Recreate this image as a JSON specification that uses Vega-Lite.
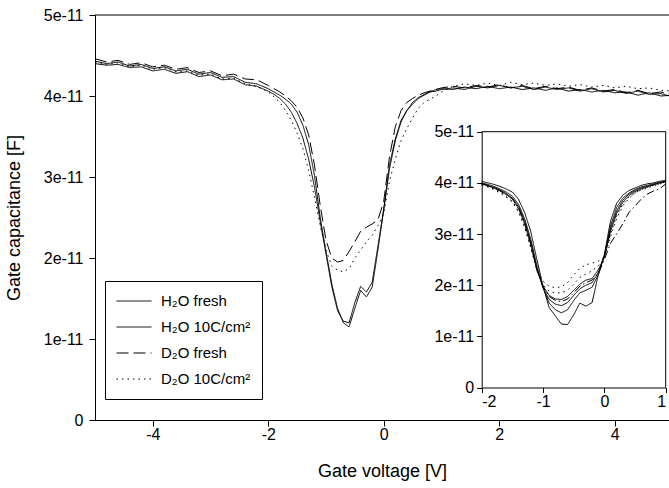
{
  "$schema": "https://vega.github.io/schema/vega-lite/v6.json",
  "width": 574,
  "height": 405,
  "autosize": {"type": "none"},
  "padding": {"left": 95, "top": 15, "right": 0, "bottom": 68},
  "background": "white",
  "config": {
    "font": "Liberation Sans",
    "view": {"stroke": null},
    "axis": {
      "domainColor": "black", "tickColor": "black", "labelColor": "black", "titleColor": "black",
      "labelFontSize": 16, "titleFontSize": 18, "titleFontWeight": "normal",
      "labelFont": "Liberation Sans", "titleFont": "Liberation Sans",
      "grid": false, "tickSize": 6, "domainWidth": 1, "tickWidth": 1
    },
    "legend": {
      "labelFont": "Liberation Sans", "labelFontSize": 15, "labelColor": "black"
    }
  },
  "datasets": {
    "main": [
      {"s": "H₂O fresh",
       "v": [-5,-4.8,-4.6,-4.4,-4.2,-4,-3.8,-3.6,-3.4,-3.2,-3,-2.8,-2.6,-2.4,-2.2,-2,-1.9,-1.8,-1.7,-1.6,-1.5,-1.4,-1.3,-1.2,-1.1,-1,-0.9,-0.8,-0.7,-0.6,-0.5,-0.4,-0.3,-0.2,-0.1,0,0.1,0.2,0.3,0.4,0.5,0.6,0.7,0.8,0.9,1,1.2,1.4,1.6,1.8,2,2.2,2.4,2.6,2.8,3,3.2,3.4,3.6,3.8,4,4.2,4.4,4.6,4.8,5],
       "c": [4.43e-11,4.40e-11,4.42e-11,4.37e-11,4.39e-11,4.34e-11,4.36e-11,4.31e-11,4.33e-11,4.27e-11,4.29e-11,4.23e-11,4.24e-11,4.17e-11,4.15e-11,
             4.09e-11,4.05e-11,4.01e-11,3.96e-11,3.9e-11,3.8e-11,3.64e-11,3.4e-11,3.02e-11,2.5e-11,2.08e-11,1.68e-11,1.38e-11,1.2e-11,1.15e-11,1.38e-11,1.6e-11,1.52e-11,1.64e-11,2.1e-11,2.6e-11,3.15e-11,3.47e-11,3.7e-11,3.82e-11,3.9e-11,3.97e-11,4.01e-11,4.05e-11,4.06e-11,4.08e-11,
             4.1e-11,4.08e-11,4.12e-11,4.1e-11,4.13e-11,4.1e-11,4.12e-11,4.08e-11,4.11e-11,4.08e-11,4.1e-11,4.06e-11,4.09e-11,4.05e-11,4.07e-11,4.03e-11,4.06e-11,4.02e-11,4.03e-11,3.99e-11]},
      {"s": "H₂O 10C/cm²",
       "v": [-5,-4.8,-4.6,-4.4,-4.2,-4,-3.8,-3.6,-3.4,-3.2,-3,-2.8,-2.6,-2.4,-2.2,-2,-1.9,-1.8,-1.7,-1.6,-1.5,-1.4,-1.3,-1.2,-1.1,-1,-0.9,-0.8,-0.7,-0.6,-0.5,-0.4,-0.3,-0.2,-0.1,0,0.1,0.2,0.3,0.4,0.5,0.6,0.7,0.8,0.9,1,1.2,1.4,1.6,1.8,2,2.2,2.4,2.6,2.8,3,3.2,3.4,3.6,3.8,4,4.2,4.4,4.6,4.8,5],
       "c": [4.40e-11,4.38e-11,4.39e-11,4.35e-11,4.36e-11,4.31e-11,4.33e-11,4.28e-11,4.30e-11,4.24e-11,4.26e-11,4.2e-11,4.21e-11,4.14e-11,4.12e-11,
             4.06e-11,4.02e-11,3.97e-11,3.9e-11,3.8e-11,3.66e-11,3.48e-11,3.22e-11,2.88e-11,2.45e-11,2.05e-11,1.65e-11,1.35e-11,1.22e-11,1.2e-11,1.45e-11,1.65e-11,1.58e-11,1.7e-11,2.15e-11,2.6e-11,3.1e-11,3.45e-11,3.68e-11,3.82e-11,3.92e-11,3.98e-11,4.02e-11,4.05e-11,4.08e-11,4.09e-11,
             4.08e-11,4.11e-11,4.09e-11,4.12e-11,4.09e-11,4.11e-11,4.08e-11,4.1e-11,4.07e-11,4.1e-11,4.06e-11,4.08e-11,4.05e-11,4.07e-11,4.04e-11,4.05e-11,4.01e-11,4.04e-11,4.0e-11,4.01e-11]},
      {"s": "D₂O fresh",
       "v": [-5,-4.8,-4.6,-4.4,-4.2,-4,-3.8,-3.6,-3.4,-3.2,-3,-2.8,-2.6,-2.4,-2.2,-2,-1.9,-1.8,-1.7,-1.6,-1.5,-1.4,-1.3,-1.2,-1.1,-1,-0.9,-0.8,-0.7,-0.6,-0.5,-0.4,-0.3,-0.2,-0.1,0,0.1,0.2,0.3,0.4,0.5,0.6,0.7,0.8,0.9,1,1.2,1.4,1.6,1.8,2,2.2,2.4,2.6,2.8,3,3.2,3.4,3.6,3.8,4,4.2,4.4,4.6,4.8,5],
       "c": [4.46e-11,4.42e-11,4.44e-11,4.39e-11,4.41e-11,4.36e-11,4.38e-11,4.33e-11,4.35e-11,4.29e-11,4.31e-11,4.25e-11,4.27e-11,4.21e-11,4.2e-11,
             4.13e-11,4.09e-11,4.05e-11,4.0e-11,3.94e-11,3.86e-11,3.73e-11,3.52e-11,3.15e-11,2.65e-11,2.22e-11,2.0e-11,1.95e-11,1.97e-11,2.08e-11,2.2e-11,2.33e-11,2.38e-11,2.42e-11,2.47e-11,2.7e-11,3.25e-11,3.62e-11,3.82e-11,3.92e-11,3.97e-11,4.01e-11,4.04e-11,4.06e-11,4.08e-11,4.1e-11,
             4.12e-11,4.1e-11,4.13e-11,4.11e-11,4.14e-11,4.1e-11,4.13e-11,4.09e-11,4.12e-11,4.09e-11,4.11e-11,4.07e-11,4.1e-11,4.06e-11,4.08e-11,4.04e-11,4.07e-11,4.03e-11,4.05e-11,4.01e-11]},
      {"s": "D₂O 10C/cm²",
       "v": [-5,-4.8,-4.6,-4.4,-4.2,-4,-3.8,-3.6,-3.4,-3.2,-3,-2.8,-2.6,-2.4,-2.2,-2,-1.9,-1.8,-1.7,-1.6,-1.5,-1.4,-1.3,-1.2,-1.1,-1,-0.9,-0.8,-0.7,-0.6,-0.5,-0.4,-0.3,-0.2,-0.1,0,0.1,0.2,0.3,0.4,0.5,0.6,0.7,0.8,0.9,1,1.2,1.4,1.6,1.8,2,2.2,2.4,2.6,2.8,3,3.2,3.4,3.6,3.8,4,4.2,4.4,4.6,4.8,5],
       "c": [4.42e-11,4.39e-11,4.41e-11,4.36e-11,4.38e-11,4.33e-11,4.35e-11,4.3e-11,4.31e-11,4.26e-11,4.27e-11,4.21e-11,4.22e-11,4.15e-11,4.12e-11,
             4.05e-11,3.99e-11,3.92e-11,3.82e-11,3.7e-11,3.54e-11,3.35e-11,3.08e-11,2.75e-11,2.4e-11,2.1e-11,1.9e-11,1.85e-11,1.83e-11,1.87e-11,2.0e-11,2.1e-11,2.2e-11,2.28e-11,2.4e-11,2.55e-11,2.95e-11,3.22e-11,3.45e-11,3.6e-11,3.73e-11,3.85e-11,3.92e-11,3.96e-11,4.0e-11,4.05e-11,
             4.12e-11,4.15e-11,4.13e-11,4.16e-11,4.13e-11,4.17e-11,4.14e-11,4.16e-11,4.13e-11,4.15e-11,4.12e-11,4.14e-11,4.11e-11,4.13e-11,4.1e-11,4.12e-11,4.09e-11,4.1e-11,4.07e-11,4.06e-11]}
    ],
    "inset": [
      {"s": "i1", "v": [-2,-1.9,-1.8,-1.7,-1.6,-1.5,-1.4,-1.3,-1.2,-1.1,-1,-0.9,-0.8,-0.7,-0.6,-0.5,-0.4,-0.3,-0.2,-0.1,0,0.1,0.2,0.3,0.4,0.5,0.6,0.7,0.8,0.9,1],
       "c": [4.03e-11,4.0e-11,3.97e-11,3.93e-11,3.88e-11,3.82e-11,3.68e-11,3.42e-11,3.05e-11,2.5e-11,1.98e-11,1.56e-11,1.4e-11,1.24e-11,1.23e-11,1.42e-11,1.65e-11,1.59e-11,1.66e-11,2.2e-11,2.6e-11,3.25e-11,3.6e-11,3.76e-11,3.85e-11,3.9e-11,3.95e-11,3.98e-11,4.0e-11,4.03e-11,4.05e-11]},
      {"s": "i2", "v": [-2,-1.9,-1.8,-1.7,-1.6,-1.5,-1.4,-1.3,-1.2,-1.1,-1,-0.9,-0.8,-0.7,-0.6,-0.5,-0.4,-0.3,-0.2,-0.1,0,0.1,0.2,0.3,0.4,0.5,0.6,0.7,0.8,0.9,1],
       "c": [4.0e-11,3.97e-11,3.93e-11,3.88e-11,3.82e-11,3.74e-11,3.58e-11,3.3e-11,2.9e-11,2.38e-11,1.95e-11,1.65e-11,1.52e-11,1.46e-11,1.52e-11,1.7e-11,1.85e-11,1.9e-11,1.96e-11,2.2e-11,2.58e-11,3.15e-11,3.52e-11,3.7e-11,3.8e-11,3.87e-11,3.92e-11,3.95e-11,3.98e-11,4.01e-11,4.04e-11]},
      {"s": "i3", "v": [-2,-1.9,-1.8,-1.7,-1.6,-1.5,-1.4,-1.3,-1.2,-1.1,-1,-0.9,-0.8,-0.7,-0.6,-0.5,-0.4,-0.3,-0.2,-0.1,0,0.1,0.2,0.3,0.4,0.5,0.6,0.7,0.8,0.9,1],
       "c": [3.99e-11,3.95e-11,3.91e-11,3.86e-11,3.79e-11,3.7e-11,3.54e-11,3.25e-11,2.85e-11,2.32e-11,1.95e-11,1.72e-11,1.63e-11,1.6e-11,1.66e-11,1.8e-11,1.93e-11,2.0e-11,2.05e-11,2.25e-11,2.56e-11,3.1e-11,3.45e-11,3.66e-11,3.78e-11,3.85e-11,3.9e-11,3.93e-11,3.97e-11,4.0e-11,4.03e-11]},
      {"s": "i4", "v": [-2,-1.9,-1.8,-1.7,-1.6,-1.5,-1.4,-1.3,-1.2,-1.1,-1,-0.9,-0.8,-0.7,-0.6,-0.5,-0.4,-0.3,-0.2,-0.1,0,0.1,0.2,0.3,0.4,0.5,0.6,0.7,0.8,0.9,1],
       "c": [3.98e-11,3.94e-11,3.9e-11,3.84e-11,3.77e-11,3.68e-11,3.5e-11,3.2e-11,2.8e-11,2.3e-11,1.98e-11,1.8e-11,1.73e-11,1.72e-11,1.78e-11,1.9e-11,2.02e-11,2.1e-11,2.13e-11,2.3e-11,2.55e-11,3.05e-11,3.4e-11,3.62e-11,3.75e-11,3.83e-11,3.88e-11,3.92e-11,3.96e-11,4.0e-11,4.02e-11]},
      {"s": "i5", "v": [-2,-1.9,-1.8,-1.7,-1.6,-1.5,-1.4,-1.3,-1.2,-1.1,-1,-0.9,-0.8,-0.7,-0.6,-0.5,-0.4,-0.3,-0.2,-0.1,0,0.1,0.2,0.3,0.4,0.5,0.6,0.7,0.8,0.9,1],
       "c": [3.97e-11,3.93e-11,3.88e-11,3.82e-11,3.74e-11,3.64e-11,3.46e-11,3.16e-11,2.76e-11,2.28e-11,2.0e-11,1.88e-11,1.85e-11,1.85e-11,1.9e-11,2.02e-11,2.15e-11,2.22e-11,2.28e-11,2.38e-11,2.53e-11,2.95e-11,3.3e-11,3.55e-11,3.7e-11,3.8e-11,3.86e-11,3.9e-11,3.94e-11,3.98e-11,4.0e-11]},
      {"s": "i6", "v": [-2,-1.9,-1.8,-1.7,-1.6,-1.5,-1.4,-1.3,-1.2,-1.1,-1,-0.9,-0.8,-0.7,-0.6,-0.5,-0.4,-0.3,-0.2,-0.1,0,0.1,0.2,0.3,0.4,0.5,0.6,0.7,0.8,0.9,1],
       "c": [3.96e-11,3.92e-11,3.87e-11,3.8e-11,3.72e-11,3.62e-11,3.43e-11,3.12e-11,2.72e-11,2.3e-11,2.08e-11,1.98e-11,1.95e-11,1.97e-11,2.05e-11,2.2e-11,2.33e-11,2.4e-11,2.43e-11,2.47e-11,2.56e-11,3.0e-11,3.35e-11,3.58e-11,3.72e-11,3.8e-11,3.87e-11,3.92e-11,3.95e-11,3.98e-11,4.02e-11]},
      {"s": "i7", "v": [-2,-1.9,-1.8,-1.7,-1.6,-1.5,-1.4,-1.3,-1.2,-1.1,-1,-0.9,-0.8,-0.7,-0.6,-0.5,-0.4,-0.3,-0.2,-0.1,0,0.1,0.2,0.3,0.4,0.5,0.6,0.7,0.8,0.9,1],
       "c": [3.98e-11,3.95e-11,3.9e-11,3.85e-11,3.78e-11,3.7e-11,3.52e-11,3.22e-11,2.8e-11,2.3e-11,1.98e-11,1.78e-11,1.7e-11,1.68e-11,1.73e-11,1.85e-11,1.98e-11,2.05e-11,2.1e-11,2.22e-11,2.5e-11,2.82e-11,3.0e-11,3.2e-11,3.42e-11,3.55e-11,3.68e-11,3.78e-11,3.84e-11,3.88e-11,3.98e-11]}
    ]
  },
  "layer": [
    {
      "layer": [
        {
          "data": {"name": "main"},
          "transform": [{"flatten": ["v", "c"]}],
          "mark": {"type": "line", "color": "black", "strokeWidth": 1, "clip": true},
          "encoding": {
            "x": {"field": "v", "type": "quantitative",
                  "scale": {"domain": [-5, 4.94], "nice": false, "zero": false},
                  "axis": {"orient": "bottom", "values": [-4, -2, 0, 2, 4], "labelExpr": "'' + datum.value",
                           "title": "Gate voltage [V]", "labelPadding": 0, "titlePadding": 20}},
            "y": {"field": "c", "type": "quantitative",
                  "scale": {"domain": [0, 5e-11], "nice": false, "zero": true},
                  "axis": {"orient": "left", "values": [0, 1e-11, 2e-11, 3e-11, 4e-11, 5e-11],
                           "labelExpr": "datum.value == 0 ? '0' : (round(datum.value * 1e11) + 'e-11')",
                           "title": "Gate capacitance [F]", "labelPadding": 6, "titlePadding": 20}},
            "strokeDash": {"field": "s", "type": "nominal",
                  "scale": {"domain": ["H₂O fresh", "H₂O 10C/cm²", "D₂O fresh", "D₂O 10C/cm²"],
                            "range": [[1, 0], [1, 0], [12, 5], [1.5, 4]]},
                  "legend": {"title": null, "orient": "none", "legendX": 10, "legendY": 266,
                             "symbolType": "stroke", "symbolSize": 1225, "symbolStrokeWidth": 1,
                             "symbolStrokeColor": "black", "strokeColor": "black", "fillColor": "white",
                             "padding": 11, "clipHeight": 18, "rowPadding": 8, "labelOffset": 9}}
          }
        },
        {
          "data": {"values": [{}]},
          "mark": {"type": "rule", "color": "black", "strokeWidth": 1},
          "encoding": {"y": {"datum": 5e-11, "type": "quantitative"}}
        }
      ]
    },
    {
      "layer": [
        {
          "data": {"name": "inset"},
          "transform": [{"flatten": ["v", "c"]}],
          "mark": {"type": "line", "color": "black", "strokeWidth": 1},
          "encoding": {
            "x": {"field": "v", "type": "quantitative",
                  "scale": {"domain": [-2, 1], "range": [386.7, 570.7], "nice": false, "zero": false},
                  "axis": {"orient": "bottom", "offset": -32.5, "values": [-2, -1, 0, 1], "labelExpr": "'' + datum.value",
                           "title": null, "labelPadding": 1, "tickSize": 5}},
            "y": {"field": "c", "type": "quantitative",
                  "scale": {"domain": [0, 5e-11], "range": [372.5, 116.7], "nice": false, "zero": true},
                  "axis": {"orient": "left", "offset": -386.7, "values": [0, 1e-11, 2e-11, 3e-11, 4e-11, 5e-11],
                           "labelExpr": "datum.value == 0 ? '0' : (round(datum.value * 1e11) + 'e-11')",
                           "title": null, "labelPadding": 3, "tickSize": 5}},
            "strokeDash": {"field": "s", "type": "nominal",
                  "scale": {"domain": ["i1", "i2", "i3", "i4", "i5", "i6", "i7"],
                            "range": [[1, 0], [1, 0], [1, 0], [1, 0], [1.5, 4], [1.5, 4], [8, 3, 1.5, 3]]},
                  "legend": null}
          }
        },
        {
          "data": {"values": [{}]},
          "mark": {"type": "rule", "color": "black", "strokeWidth": 1},
          "encoding": {"x": {"datum": -2, "type": "quantitative"}, "x2": {"datum": 1}, "y": {"datum": 5e-11, "type": "quantitative"}}
        },
        {
          "data": {"values": [{}]},
          "mark": {"type": "rule", "color": "black", "strokeWidth": 1},
          "encoding": {"x": {"datum": 1, "type": "quantitative"}, "y": {"datum": 0, "type": "quantitative"}, "y2": {"datum": 5e-11}}
        }
      ]
    }
  ],
  "resolve": {
    "scale": {"x": "independent", "y": "independent", "strokeDash": "independent"},
    "axis": {"x": "independent", "y": "independent"},
    "legend": {"strokeDash": "independent"}
  }
}
